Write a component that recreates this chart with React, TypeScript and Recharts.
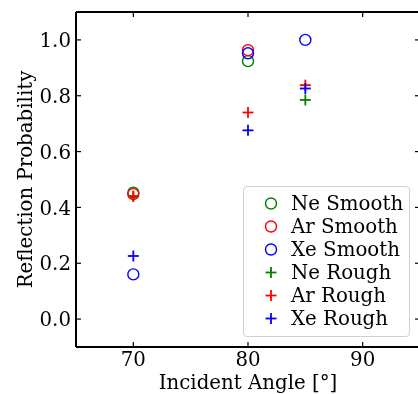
import React from 'react';
import { ScatterChart, Scatter, XAxis, YAxis } from 'recharts';

// Reflection probability vs incident angle
const neSmooth = [
  { angle: 70, prob: 0.453 },
  { angle: 80, prob: 0.924 },
];
const arSmooth = [
  { angle: 70, prob: 0.448 },
  { angle: 80, prob: 0.963 },
];
const xeSmooth = [
  { angle: 70, prob: 0.16 },
  { angle: 80, prob: 0.952 },
  { angle: 85, prob: 1.0 },
];
const neRough = [
  { angle: 70, prob: 0.44 },
  { angle: 85, prob: 0.785 },
];
const arRough = [
  { angle: 70, prob: 0.44 },
  { angle: 80, prob: 0.74 },
  { angle: 85, prob: 0.838 },
];
const xeRough = [
  { angle: 70, prob: 0.226 },
  { angle: 80, prob: 0.676 },
  { angle: 85, prob: 0.826 },
];

const xTicks = [70, 80, 90];
const yTicks = [0, 0.2, 0.4, 0.6, 0.8, 1.0];

const series = [
  { name: 'Ne Smooth', data: neSmooth, color: '#008000', kind: 'circle' },
  { name: 'Ar Smooth', data: arSmooth, color: '#ff0000', kind: 'circle' },
  { name: 'Xe Smooth', data: xeSmooth, color: '#0000ff', kind: 'circle' },
  { name: 'Ne Rough', data: neRough, color: '#008000', kind: 'plus' },
  { name: 'Ar Rough', data: arRough, color: '#ff0000', kind: 'plus' },
  { name: 'Xe Rough', data: xeRough, color: '#0000ff', kind: 'plus' },
];

const FONT = 'DejaVu Serif';
const FS = 19.8;
const TICK_LEN = 5;

const Marker = ({ cx, cy, color, kind }: any) => {
  if (kind === 'circle') {
    return <circle cx={cx} cy={cy} r={5.5} fill="none" stroke={color} strokeWidth={1.4} />;
  }
  return (
    <g stroke={color} strokeWidth={1.8}>
      <line x1={cx - 5.5} y1={cy} x2={cx + 5.5} y2={cy} />
      <line x1={cx} y1={cy - 5.5} x2={cx} y2={cy + 5.5} />
    </g>
  );
};

const BottomTick = ({ x, y, payload }: any) => (
  <g>
    <line x1={x} y1={y} x2={x} y2={y - TICK_LEN} stroke="#000" strokeWidth={1.2} />
    <text x={x} y={y + 19} textAnchor="middle" fontFamily={FONT} fontSize={FS} fill="#000">
      {payload.value}
    </text>
  </g>
);

const TopTick = ({ x, y }: any) => (
  <line x1={x} y1={y} x2={x} y2={y + TICK_LEN} stroke="#000" strokeWidth={1.2} />
);

const LeftTick = ({ x, y, payload }: any) => (
  <g>
    <line x1={x} y1={y} x2={x + TICK_LEN} y2={y} stroke="#000" strokeWidth={1.2} />
    <text x={x - 5} y={y} dy="0.36em" textAnchor="end" fontFamily={FONT} fontSize={FS} fill="#000">
      {Number(payload.value).toFixed(1)}
    </text>
  </g>
);

const RightTick = ({ x, y }: any) => (
  <line x1={x} y1={y} x2={x - TICK_LEN} y2={y} stroke="#000" strokeWidth={1.2} />
);

const LegendBox = () => (
  <div
    style={{
      position: 'absolute',
      left: 243,
      top: 186,
      width: 167,
      height: 151,
      boxSizing: 'border-box',
      border: '1px solid #d0d0d0',
      borderRadius: 4,
      background: 'rgba(255,255,255,0.85)',
      paddingTop: 5,
    }}
  >
    {series.map((s) => (
      <div key={s.name} style={{ display: 'flex', alignItems: 'center', height: 23 }}>
        <svg width={47} height={23}>
          <Marker cx={27} cy={11.5} color={s.color} kind={s.kind} />
        </svg>
        <span style={{ fontFamily: FONT, fontSize: FS, color: '#000', lineHeight: '23px', whiteSpace: 'nowrap' }}>
          {s.name}
        </span>
      </div>
    ))}
  </div>
);

export default function App() {
  return (
    <div style={{ position: 'fixed', left: 0, top: 0, width: 418, height: 394, overflow: 'hidden' }}>
      <ScatterChart width={430} height={394} margin={{ top: 0, right: 0, bottom: 0, left: 0 }}>
        <XAxis
          xAxisId="bottom"
          type="number"
          dataKey="angle"
          domain={[65, 95]}
          ticks={xTicks}
          allowDataOverflow
          height={47}
          tickSize={0}
          tickMargin={0}
          axisLine={{ stroke: '#000', strokeWidth: 2 }}
          tick={<BottomTick />}
          label={{
            content: ({ viewBox }: any) => (
              <text
                x={viewBox.x + viewBox.width / 2}
                y={389}
                textAnchor="middle"
                fontFamily={FONT}
                fontSize={FS}
                fill="#000"
              >
                Incident Angle [°]
              </text>
            ),
          }}
        />
        <XAxis
          xAxisId="top"
          orientation="top"
          type="number"
          dataKey="angle"
          domain={[65, 95]}
          ticks={xTicks}
          allowDataOverflow
          height={12}
          tickSize={0}
          tickMargin={0}
          axisLine={{ stroke: '#000', strokeWidth: 2 }}
          tick={<TopTick />}
        />
        <YAxis
          yAxisId="left"
          type="number"
          dataKey="prob"
          domain={[-0.1, 1.1]}
          ticks={yTicks}
          allowDataOverflow
          width={76}
          tickSize={0}
          tickMargin={0}
          axisLine={{ stroke: '#000', strokeWidth: 2 }}
          tick={<LeftTick />}
          label={{
            content: ({ viewBox }: any) => {
              const cy = viewBox.y + viewBox.height / 2;
              return (
                <text
                  x={25}
                  y={cy}
                  transform={`rotate(-90 25 ${cy})`}
                  textAnchor="middle"
                  dominantBaseline="central"
                  fontFamily={FONT}
                  fontSize={FS}
                  fill="#000"
                >
                  Reflection Probability
                </text>
              );
            },
          }}
        />
        <YAxis
          yAxisId="right"
          orientation="right"
          type="number"
          dataKey="prob"
          domain={[-0.1, 1.1]}
          ticks={yTicks}
          allowDataOverflow
          width={10}
          tickSize={0}
          tickMargin={0}
          axisLine={{ stroke: '#000', strokeWidth: 2 }}
          tick={<RightTick />}
        />
        {series.map((s) => (
          <Scatter
            key={s.name}
            name={s.name}
            data={s.data}
            xAxisId="bottom"
            yAxisId="left"
            isAnimationActive={false}
            shape={(p: any) => <Marker cx={p.cx} cy={p.cy} color={s.color} kind={s.kind} />}
          />
        ))}
      </ScatterChart>
      <LegendBox />
    </div>
  );
}
